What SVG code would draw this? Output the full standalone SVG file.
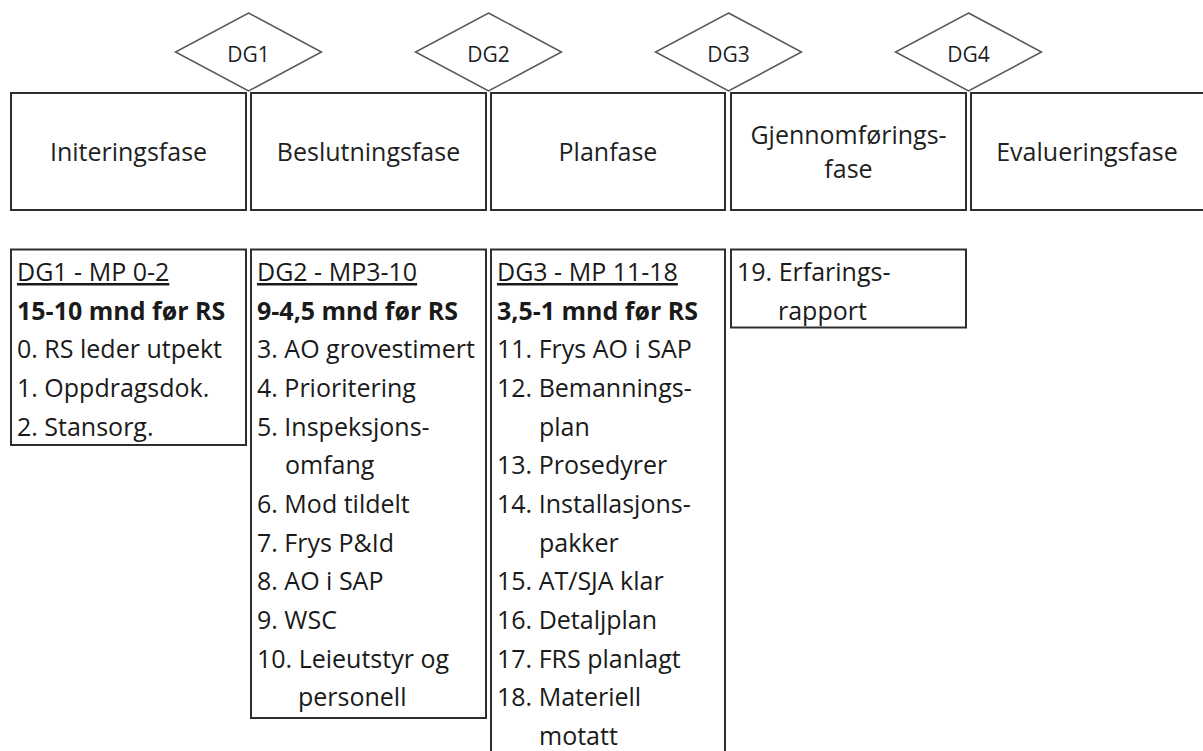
<svg xmlns="http://www.w3.org/2000/svg" width="1203" height="751" viewBox="0 0 1203 751">
  <style>
    .gate { fill: #ffffff; stroke: #555555; stroke-width: 1.5; }
    .gate-label { font-family: "Open Sans", "Liberation Sans", sans-serif; font-size: 21px; fill: #1f1f1f; text-anchor: middle; }
    .phase { fill: #ffffff; stroke: #2e2e2e; stroke-width: 2; }
    .phase-label { font-family: "Open Sans", "Liberation Sans", sans-serif; font-size: 25px; fill: #1f1f1f; text-anchor: middle; }
    .list { fill: #ffffff; stroke: #2e2e2e; stroke-width: 2; }
    .item { font-family: "Open Sans", "Liberation Sans", sans-serif; font-size: 25px; fill: #1a1a1a; }
    .head { text-decoration: underline; }
    .bold { font-weight: bold; }
  </style>

  <!-- Phase boxes -->
  <g id="phase-initiering">
    <rect class="phase" x="11" y="93" width="235" height="117"/>
    <text class="phase-label" x="128.5" y="161">Initeringsfase</text>
  </g>
  <g id="phase-beslutning">
    <rect class="phase" x="251" y="93" width="235" height="117"/>
    <text class="phase-label" x="368.5" y="161">Beslutningsfase</text>
  </g>
  <g id="phase-plan">
    <rect class="phase" x="491" y="93" width="234" height="117"/>
    <text class="phase-label" x="608" y="161">Planfase</text>
  </g>
  <g id="phase-gjennomforing">
    <rect class="phase" x="731" y="93" width="235" height="117"/>
    <text class="phase-label" x="848.5" y="144">Gjennomførings-</text>
    <text class="phase-label" x="848.5" y="178">fase</text>
  </g>
  <g id="phase-evaluering">
    <rect class="phase" x="971" y="93" width="240" height="117"/>
    <text class="phase-label" x="1087" y="161">Evalueringsfase</text>
  </g>

  <!-- Decision gates -->
  <g id="gate-dg1">
    <polygon class="gate" points="248.5,13 321.5,52 248.5,91 175.5,52"/>
    <text class="gate-label" x="248.5" y="62">DG1</text>
  </g>
  <g id="gate-dg2">
    <polygon class="gate" points="488.5,13 561.5,52 488.5,91 415.5,52"/>
    <text class="gate-label" x="488.5" y="62">DG2</text>
  </g>
  <g id="gate-dg3">
    <polygon class="gate" points="728.5,13 801.5,52 728.5,91 655.5,52"/>
    <text class="gate-label" x="728.5" y="62">DG3</text>
  </g>
  <g id="gate-dg4">
    <polygon class="gate" points="968.5,13 1041.5,52 968.5,91 895.5,52"/>
    <text class="gate-label" x="968.5" y="62">DG4</text>
  </g>

  <!-- Milestone lists -->
  <g id="list-dg1">
    <rect class="list" x="11" y="249.5" width="235" height="195.5"/>
    <text class="item head" x="17" y="281">DG1 - MP 0-2</text>
    <text class="item bold" x="17" y="319.6">15-10 mnd før RS</text>
    <text class="item" x="17" y="358.3">0. RS leder utpekt</text>
    <text class="item" x="17" y="397">1. Oppdragsdok.</text>
    <text class="item" x="17" y="435.6">2. Stansorg.</text>
  </g>
  <g id="list-dg2">
    <rect class="list" x="251" y="249.5" width="235" height="468.5"/>
    <text class="item head" x="257" y="281">DG2 - MP3-10</text>
    <text class="item bold" x="257" y="319.6">9-4,5 mnd før RS</text>
    <text class="item" x="257" y="358.3">3. AO grovestimert</text>
    <text class="item" x="257" y="397">4. Prioritering</text>
    <text class="item" x="257" y="435.6">5. Inspeksjons-</text>
    <text class="item" x="285" y="474.3">omfang</text>
    <text class="item" x="257" y="512.9">6. Mod tildelt</text>
    <text class="item" x="257" y="551.6">7. Frys P&amp;Id</text>
    <text class="item" x="257" y="590.2">8. AO i SAP</text>
    <text class="item" x="257" y="628.9">9. WSC</text>
    <text class="item" x="257" y="667.5">10. Leieutstyr og</text>
    <text class="item" x="298" y="706.2">personell</text>
  </g>
  <g id="list-dg3">
    <rect class="list" x="491" y="249.5" width="234" height="520"/>
    <text class="item head" x="497" y="281">DG3 - MP 11-18</text>
    <text class="item bold" x="497" y="319.6">3,5-1 mnd før RS</text>
    <text class="item" x="497" y="358.3">11. Frys AO i SAP</text>
    <text class="item" x="497" y="397">12. Bemannings-</text>
    <text class="item" x="539" y="435.6">plan</text>
    <text class="item" x="497" y="474.3">13. Prosedyrer</text>
    <text class="item" x="497" y="512.9">14. Installasjons-</text>
    <text class="item" x="539" y="551.6">pakker</text>
    <text class="item" x="497" y="590.2">15. AT/SJA klar</text>
    <text class="item" x="497" y="628.9">16. Detaljplan</text>
    <text class="item" x="497" y="667.5">17. FRS planlagt</text>
    <text class="item" x="497" y="706.2">18. Materiell</text>
    <text class="item" x="539" y="744.8">motatt</text>
  </g>
  <g id="list-dg4">
    <rect class="list" x="731" y="249.5" width="235" height="78"/>
    <text class="item" x="737" y="281">19. Erfarings-</text>
    <text class="item" x="778" y="319.6">rapport</text>
  </g>

  <!-- No connectors are drawn between the nodes -->
  <g id="connectors"/>
</svg>
